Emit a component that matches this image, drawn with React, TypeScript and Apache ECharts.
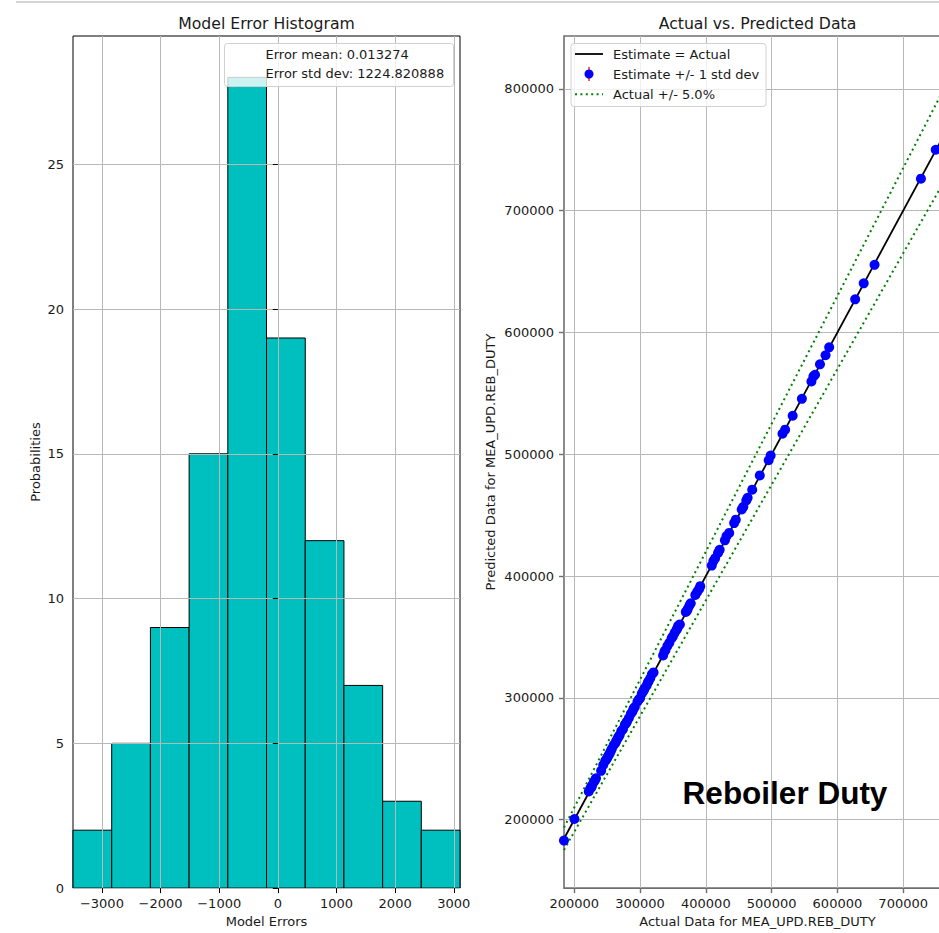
import React, { useEffect, useRef } from "react";
import * as echarts from "echarts";

// ---- Histogram data ----
const binEdges = [-3493, -2833, -2173, -1513, -853, -193, 467, 1127, 1787, 2446, 3106];
const binCounts = [2, 5, 9, 15, 28, 19, 12, 7, 3, 2];
const histXTicks = [-3000, -2000, -1000, 0, 1000, 2000, 3000];
const histYTicks = [0, 5, 10, 15, 20, 25];
const errorMean = "0.013274";
const errorStd = "1224.820888";

// ---- Actual vs predicted data ----
const actualValues = [
  184300, 200200, 222000, 224500, 226000, 227000, 229500, 231500, 233000, 240800,
  244000, 247000, 249000, 250500, 252500, 254000, 255500, 257000, 260000, 262500,
  264000, 266000, 267500, 269000, 271500, 274000, 277000, 279000, 280000, 283000,
  286000, 288500, 290000, 292000, 296000, 298000, 300000, 302500, 304500, 306000,
  307000, 310000, 312000, 313000, 315500, 318000, 320500, 335000, 337000, 338500,
  341500, 344500, 348000, 350000, 352500, 355500, 357000, 358000, 360500, 369500,
  371000, 372500, 375000, 377000, 384000, 387000, 390000, 391500, 409000, 411500,
  414000, 418500, 421000, 429000, 431500, 435500, 443000, 445500, 454500, 457000,
  461500, 463500, 470500, 482000, 495500, 498500, 516500, 520500, 532000, 546000,
  560500, 563500, 566000, 573500, 582000, 587500, 627000, 640000, 656500, 727000,
  749500, 772700,
];
const predictedValues = [
  182800, 200500, 223100, 225800, 226400, 228000, 230700, 232400, 233900, 240100,
  244900, 248200, 249500, 251300, 253100, 254600, 256400, 258100, 261200, 263000,
  264700, 266900, 268300, 269400, 272800, 274300, 278100, 279300, 280600, 283400,
  286900, 288700, 291100, 292400, 296800, 298600, 299700, 303400, 305300, 306400,
  307900, 310200, 312800, 313600, 316100, 319300, 320900, 334800, 337900, 339100,
  342500, 345200, 349000, 350600, 353300, 356000, 357300, 359100, 360300, 370500,
  371300, 372900, 375800, 377600, 384500, 387200, 389600, 391700, 408600, 412300,
  414500, 419000, 421600, 429300, 432800, 435400, 443500, 446300, 454700, 456800,
  462100, 464300, 470900, 482600, 495100, 498900, 516800, 520200, 531600, 545500,
  559700, 563900, 565300, 573800, 581300, 587800, 627200, 640300, 655500, 726300,
  750000, 772000,
];
const tolerancePct = 5.0;
const scatterXTicks = [200000, 300000, 400000, 500000, 600000, 700000];
const scatterYTicks = [200000, 300000, 400000, 500000, 600000, 700000, 800000];

const FONT = "DejaVu Sans";
const TXT = "#1a1a1a";
const GRIDC = "#b8b8b8";

export default function App() {
  const ref = useRef<HTMLDivElement>(null);

  useEffect(() => {
    if (!ref.current) return;
    const chart = echarts.init(ref.current, undefined, { renderer: "svg" });

    const aMin = Math.min(...actualValues);
    const aMax = Math.max(...actualValues);
    const f = tolerancePct / 100;
    const identLine = [[aMin, aMin], [aMax, aMax]];
    const upperLine = [[aMin, aMin * (1 + f)], [aMax, aMax * (1 + f)]];
    const lowerLine = [[aMin, aMin * (1 - f)], [aMax, aMax * (1 - f)]];
    const scatterData = actualValues.map((a, i) => [a, predictedValues[i]]);
    const histData = binCounts.map((c, i) => [binEdges[i], binEdges[i + 1], c]);

    const minus = (v: number) => (v < 0 ? "\u2212" + Math.abs(v) : String(v));

    const tickLabel = { fontFamily: FONT, fontSize: 13, color: TXT };

    const legendText = (text: string, x: number, y: number) => ({
      type: "text",
      x,
      y,
      z: 101,
      style: { text, fontFamily: FONT, fontSize: 13, fill: TXT, align: "left", verticalAlign: "middle" },
    });

    const option: any = {
      animation: false,
      backgroundColor: "#ffffff",
      grid: [
        { left: 73, top: 36, width: 387, height: 855, show: true, borderColor: "#000", borderWidth: 1, backgroundColor: "transparent" },
        { left: 564, top: 36, width: 387, height: 855, show: true, borderColor: "#6f6f6f", borderWidth: 1.6, backgroundColor: "transparent" },
      ],
      xAxis: [
        {
          type: "value",
          gridIndex: 0,
          min: binEdges[0],
          max: binEdges[binEdges.length - 1],
          splitNumber: 7,
          z: 3,
          name: "Model Errors",
          nameLocation: "middle",
          nameGap: 26,
          nameTextStyle: { fontFamily: FONT, fontSize: 13, color: TXT },
          axisLine: { show: false },
          axisTick: { show: true, length: 5, customValues: histXTicks, lineStyle: { color: "#000", width: 1 } },
          axisLabel: { ...tickLabel, margin: 9, customValues: histXTicks, formatter: (v: number) => minus(v) },
          splitLine: { show: true, lineStyle: { color: GRIDC, width: 1 } },
        },
        {
          type: "value",
          gridIndex: 1,
          min: 184350,
          max: 772700,
          splitNumber: 6,
          name: "Actual Data for MEA_UPD.REB_DUTY",
          nameLocation: "middle",
          nameGap: 26,
          nameTextStyle: { fontFamily: FONT, fontSize: 13, color: TXT },
          axisLine: { show: false },
          axisTick: { show: true, length: 5, customValues: scatterXTicks, lineStyle: { color: "#6f6f6f", width: 1.4 } },
          axisLabel: { ...tickLabel, margin: 9, customValues: scatterXTicks, formatter: (v: number) => String(v) },
          splitLine: { show: true, lineStyle: { color: GRIDC, width: 1 } },
        },
      ],
      yAxis: [
        {
          type: "value",
          gridIndex: 0,
          min: 0,
          max: 29.43,
          interval: 5,
          z: 3,
          name: "Probabilities",
          nameLocation: "middle",
          nameGap: 31,
          nameTextStyle: { fontFamily: FONT, fontSize: 13, color: TXT },
          axisLine: { show: false },
          axisTick: { show: true, length: 5, customValues: histYTicks, lineStyle: { color: "#000", width: 1 } },
          axisLabel: { ...tickLabel, margin: 9, customValues: histYTicks },
          splitLine: { show: true, lineStyle: { color: GRIDC, width: 1 } },
        },
        {
          type: "value",
          gridIndex: 1,
          min: 143800,
          max: 843400,
          splitNumber: 7,
          name: "Predicted Data for MEA_UPD.REB_DUTY",
          nameLocation: "middle",
          nameGap: 67,
          nameTextStyle: { fontFamily: FONT, fontSize: 13, color: TXT },
          axisLine: { show: false },
          axisTick: { show: true, length: 5, customValues: scatterYTicks, lineStyle: { color: "#6f6f6f", width: 1.4 } },
          axisLabel: { ...tickLabel, margin: 10, customValues: scatterYTicks, formatter: (v: number) => String(v) },
          splitLine: { show: true, lineStyle: { color: GRIDC, width: 1 } },
        },
      ],
      series: [
        {
          type: "custom",
          xAxisIndex: 0,
          yAxisIndex: 0,
          z: 2,
          encode: { x: [0, 1], y: 2 },
          data: histData,
          renderItem: (params: any, api: any) => {
            const x0 = api.value(0);
            const x1 = api.value(1);
            const c = api.value(2);
            const p0 = api.coord([x0, c]);
            const p1 = api.coord([x1, 0]);
            return {
              type: "rect",
              shape: { x: p0[0], y: p0[1], width: p1[0] - p0[0], height: p1[1] - p0[1] },
              style: { fill: "#00bfbf", stroke: "#000", lineWidth: 1 },
            };
          },
        },
        {
          type: "line",
          xAxisIndex: 1,
          yAxisIndex: 1,
          data: identLine,
          symbol: "none",
          z: 3,
          lineStyle: { color: "#000", width: 1.8 },
        },
        {
          type: "line",
          xAxisIndex: 1,
          yAxisIndex: 1,
          data: upperLine,
          symbol: "none",
          z: 3,
          lineStyle: { color: "#008000", width: 2, type: [2, 3.4] },
        },
        {
          type: "line",
          xAxisIndex: 1,
          yAxisIndex: 1,
          data: lowerLine,
          symbol: "none",
          z: 3,
          lineStyle: { color: "#008000", width: 2, type: [2, 3.4] },
        },
        {
          type: "scatter",
          xAxisIndex: 1,
          yAxisIndex: 1,
          data: scatterData,
          symbol: "circle",
          symbolSize: 10,
          z: 4,
          itemStyle: { color: "#0000ff", opacity: 1 },
        },
      ],
      graphic: [
        { type: "rect", shape: { x: 16, y: 1, width: 960, height: 2 }, style: { fill: "#d4d4d4" }, z: 100 },
        {
          type: "text", x: 266.5, y: 23, z: 100,
          style: { text: "Model Error Histogram", fontFamily: FONT, fontSize: 15.7, fill: TXT, align: "center", verticalAlign: "middle" },
        },
        {
          type: "text", x: 757.5, y: 23, z: 100,
          style: { text: "Actual vs. Predicted Data", fontFamily: FONT, fontSize: 15.7, fill: TXT, align: "center", verticalAlign: "middle" },
        },
        // left legend
        {
          type: "rect", z: 100,
          shape: { x: 224.5, y: 43.5, width: 229, height: 43, r: 3 },
          style: { fill: "rgba(255,255,255,0.8)", stroke: "#d0d0d0", lineWidth: 1 },
        },
        legendText("Error mean: " + errorMean, 265.5, 54),
        legendText("Error std dev: " + errorStd, 265.5, 73),
        // right legend
        {
          type: "rect", z: 100,
          shape: { x: 571, y: 43.5, width: 195, height: 63, r: 3 },
          style: { fill: "rgba(255,255,255,0.8)", stroke: "#d0d0d0", lineWidth: 1 },
        },
        { type: "line", z: 101, shape: { x1: 575, y1: 54, x2: 603, y2: 54 }, style: { stroke: "#000", lineWidth: 1.8 } },
        { type: "line", z: 101, shape: { x1: 589, y1: 67, x2: 589, y2: 81 }, style: { stroke: "#ff0000", lineWidth: 1.3 } },
        { type: "circle", z: 102, shape: { cx: 589, cy: 74, r: 4.5 }, style: { fill: "#0000ff" } },
        { type: "line", z: 101, shape: { x1: 575, y1: 94.3, x2: 603, y2: 94.3 }, style: { stroke: "#008000", lineWidth: 2, lineDash: [2, 3.4] } },
        legendText("Estimate = Actual", 613, 54),
        legendText("Estimate +/- 1 std dev", 613, 74),
        legendText("Actual +/- 5.0%", 613, 94.3),
        {
          type: "text", x: 785, y: 793, z: 100,
          style: {
            text: "Reboiler Duty", fontFamily: "Liberation Sans, Arial, sans-serif", fontWeight: "bold",
            fontSize: 31.5, fill: "#000", align: "center", verticalAlign: "middle",
          },
        },
      ],
    };

    chart.setOption(option);
    return () => chart.dispose();
  }, []);

  return (
    <div style={{ position: "fixed", left: 0, top: 0, width: 939, height: 933, overflow: "hidden", background: "#fff" }}>
      <div ref={ref} style={{ width: 980, height: 933 }} />
    </div>
  );
}
